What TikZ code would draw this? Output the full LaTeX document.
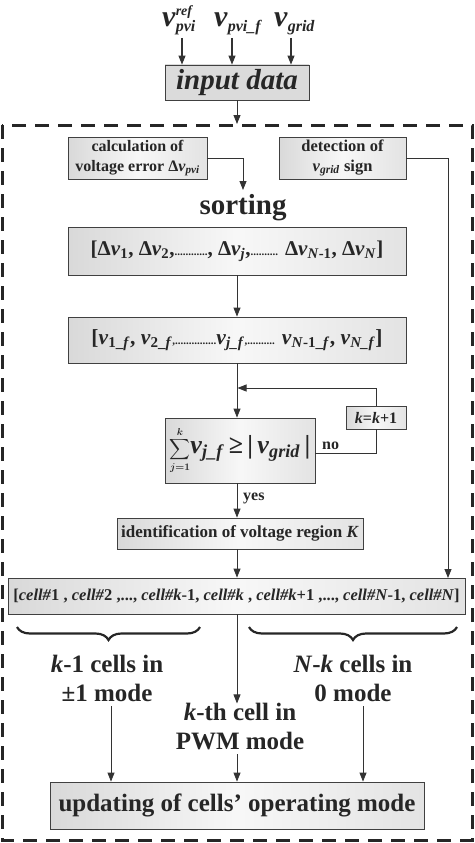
\documentclass[tikz,border=0pt]{standalone}
\usepackage{amsmath}
\usepackage{fontspec}
\setmainfont{Liberation Serif}
\usetikzlibrary{arrows.meta,decorations.pathreplacing}
\newcommand{\fs}[1]{\fontsize{#1}{#1}\selectfont}
\begin{document}
\begin{tikzpicture}[x=1pt,y=-1pt,
  box/.style={draw=black!75, line width=0.8pt, left color=gray!30, right color=gray!22, middle color=gray!6,
    inner sep=0pt, align=center, font=\bfseries\fontsize{16.5}{20}\selectfont, text=black!85},
  arr/.style={-{Triangle[width=7pt,length=9pt]}, line width=0.8pt, draw=black!80},
  ln/.style={line width=0.8pt, draw=black!80},
  lab/.style={font=\bfseries\fontsize{25}{29}\selectfont, align=center, text=black!85, inner sep=0pt},
  topv/.style={font=\bfseries, text=black!85, inner sep=0pt, anchor=base west},
  brc/.style={decorate, decoration={brace, mirror, amplitude=13pt, aspect=0.5}, line width=2.2pt, draw=black!85}]
\useasboundingbox (0,0) rectangle (474,843);
% top inputs
\node[topv] (in1) at (162,27) {{\fs{30}\textit{v}}\rlap{\raisebox{11pt}{\fs{14}\textit{ref}}}\raisebox{-5pt}{\fs{16}\textit{pvi}}};
\node[topv] (in2) at (214,27) {{\fs{30}\textit{v}}\raisebox{-5pt}{\fs{16}\textit{pvi\_f}}};
\node[topv] (in3) at (274,27) {{\fs{30}\textit{v}}\raisebox{-5pt}{\fs{16}\textit{grid}}};
\node[box, left color=gray!28, right color=gray!28, middle color=gray!28, minimum width=144pt, minimum height=35pt, font=\bfseries\itshape\fs{29}] (input) at (237,82.5) {input data};
\coordinate (a1) at (182,38);
\coordinate (a2) at (232,38);
\coordinate (a3) at (291,38);
\draw[arr, line width=1.1pt] (a1) -- (a1 |- input.north);
\draw[arr, line width=1.1pt] (a2) -- (a2 |- input.north);
\draw[arr, line width=1.1pt] (a3) -- (a3 |- input.north);
% dashed frame
\draw[line width=3pt, dash pattern=on 14pt off 9pt, draw=black!85] (2,125) rectangle (472,840);
\coordinate (ftop) at (237,124);
\draw[arr] (input.south) -- (ftop);
% first row
\node[box, minimum width=139pt, minimum height=42pt, font=\bfseries\fontsize{16}{20}\selectfont] (calc) at (137.5,158) {calculation of\\voltage error Δ\textit{v}\textsubscript{\textit{pvi}}};
\node[box, minimum width=127pt, minimum height=42pt] (detect) at (342.5,158) {detection of\\\textit{v}\textsubscript{\textit{grid}} sign};
\node[lab, font=\bfseries\fs{29}] (sorting) at (243,208) {sorting};
\coordinate (stop) at (243,190);
\draw[arr] (calc.east) -| (stop);
\node[box, minimum width=338pt, minimum height=48pt, font=\bfseries\fs{21}] (dv) at (237,251)
  {[Δ\textit{v}\textsubscript{1}, Δ\textit{v}\textsubscript{2},\fs{11}............\fs{21}, Δ\textit{v}\textsubscript{\textit{j}},\fs{11}..........\fs{21} Δ\textit{v}\textsubscript{\textit{N}-1}, Δ\textit{v}\textsubscript{\textit{N}}]};
\node[box, minimum width=338pt, minimum height=46pt, font=\bfseries\fs{21.5}] (vf) at (237,340)
  {[\textit{v}\textsubscript{1\_\textit{f}}, \textit{v}\textsubscript{2\_\textit{f}}\fs{11},...............\fs{21.5}\textit{v}\textsubscript{\textit{j\_f}}\fs{11},..........\fs{21.5} \textit{v}\textsubscript{\textit{N}-1\_\textit{f}}, \textit{v}\textsubscript{\textit{N\_f}}]};
\draw[arr] (dv.south) -- (vf.north);
% decision
\node[box, minimum width=150pt, minimum height=65pt, font=\bfseries\fs{26}] (sum) at (240,450.5)
  {{\fs{14}\boldmath$\displaystyle\sum_{j=1}^{k}$}\textit{v}\textsubscript{\textit{j\_f}}\,≥\,|\,\textit{v}\textsubscript{\textit{grid}}\,|};
\node[box, minimum width=60pt, minimum height=23pt, font=\bfseries\fs{16}] (kk) at (376,417.5) {\textit{k}=\textit{k}+1};
\coordinate (loop) at (237.5,388);
\draw[arr] (vf.south) -- (vf.south |- sum.north);
\draw[ln] (sum.east |- 0,453) -| (kk.south);
\node[font=\bfseries\fs{16}, text=black!85, anchor=base west, inner sep=0pt] (no) at (322,449) {no};
\draw[arr] (kk.north) |- (loop);
\node[box, minimum width=246pt, minimum height=31pt, font=\bfseries\fs{17}] (id) at (240,533.5) {identification of voltage region \textit{K}};
\coordinate (ys) at (237,483);
\draw[arr] (ys) -- (ys |- id.north);
\node[font=\bfseries\fs{16}, text=black!85, anchor=west, inner sep=0pt] (yes) at (243,498) {yes};
% cells row
\node[box, minimum width=457pt, minimum height=36pt, font=\bfseries\fs{16.5}] (cell) at (236.5,596)
  {[\textit{cell\#}1 , \textit{cell\#}2 ,..., \textit{cell\#k}-1, \textit{cell\#k} , \textit{cell\#k}+1 ,..., \textit{cell\#N}-1, \textit{cell\#N}]};
\coordinate (c1) at (237,549);
\draw[arr] (c1) -- (c1 |- cell.north);
\coordinate (cr) at (448,578);
\draw[arr] (detect.east) -| (cr);
% braces
\coordinate (b1l) at (17,627);
\coordinate (b1r) at (200,627);
\coordinate (b2l) at (249,627);
\coordinate (b2r) at (457,627);
\draw[brc] (b1l) -- (b1r);
\draw[brc] (b2l) -- (b2r);
% mode labels
\node[lab] (left) at (107,678) {\textit{k}-1 cells in\\±1 mode};
\node[lab] (right) at (353,678) {\textit{N}-\textit{k} cells in\\0 mode};
\node[lab] (mid) at (240,727) {\textit{k}-th cell in\\PWM mode};
\coordinate (c2) at (237,614);
\draw[arr] (c2) -- (c2 |- mid.north);
\node[box, minimum width=374pt, minimum height=47pt, font=\bfseries\fs{25}] (upd) at (237,805.5) {updating of cells’ operating mode};
\coordinate (l1) at (111,706);
\coordinate (r1) at (363,706);
\coordinate (m1) at (237,754);
\draw[arr] (l1) -- (l1 |- upd.north);
\draw[arr] (r1) -- (r1 |- upd.north);
\draw[arr] (m1) -- (m1 |- upd.north);
\end{tikzpicture}
\end{document}
